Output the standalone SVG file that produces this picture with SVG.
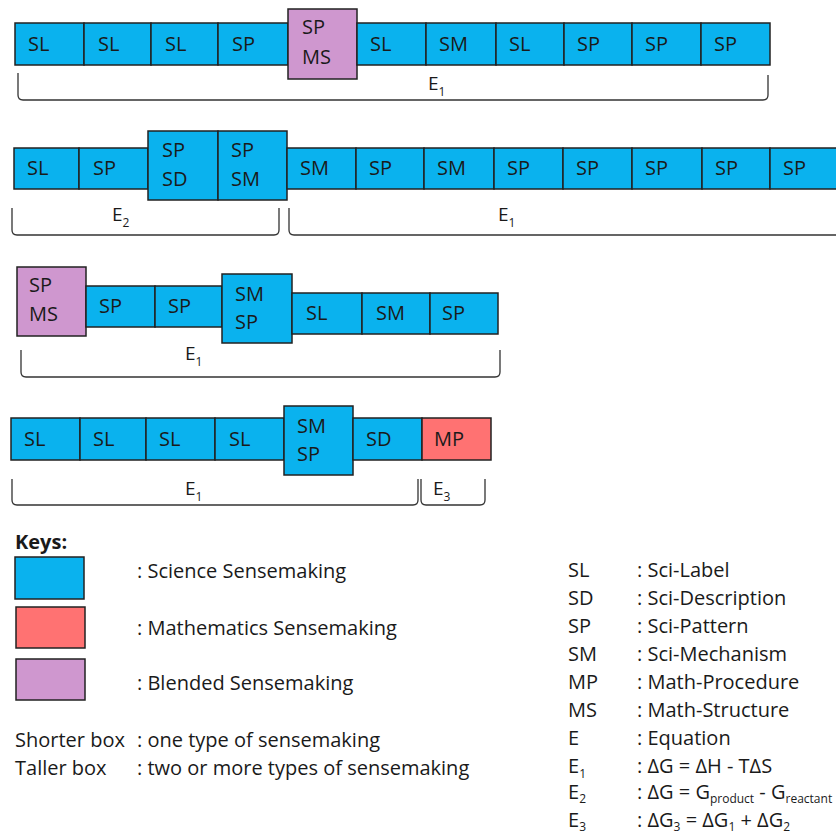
<svg xmlns="http://www.w3.org/2000/svg" width="836" height="835" viewBox="0 0 836 835">
<style>
text{font-family:"Open Sans","Noto Sans","DejaVu Sans",sans-serif;fill:#1a1a1a}
.lb{font-size:20px}
.sci{fill:#0AB2EE;stroke:#222;stroke-width:1.5}
.math{fill:#FF7272;stroke:#222;stroke-width:1.5}
.bl{fill:#CF97CF;stroke:#222;stroke-width:1.5}
.br{fill:none;stroke:#333;stroke-width:1.3}
.el{font-size:19px}
.sub{font-size:12px}
.lg{font-size:20px}
</style>
<rect width="836" height="835" fill="#fff"/>
<g id="row1">
<g id="r1b1"><rect class="sci" x="15" y="23" width="69" height="42"/><text class="lb" x="28" y="51">SL</text></g>
<g id="r1b2"><rect class="sci" x="84" y="23" width="67" height="42"/><text class="lb" x="98" y="51">SL</text></g>
<g id="r1b3"><rect class="sci" x="151" y="23" width="67" height="42"/><text class="lb" x="165" y="51">SL</text></g>
<g id="r1b4"><rect class="sci" x="218" y="23" width="70" height="42"/><text class="lb" x="232" y="51">SP</text></g>
<g id="r1b5"><rect class="bl" x="288" y="9" width="69" height="70"/><text class="lb" x="302" y="34">SP</text><text class="lb" x="302" y="64">MS</text></g>
<g id="r1b6"><rect class="sci" x="357" y="23" width="69" height="42"/><text class="lb" x="370" y="51">SL</text></g>
<g id="r1b7"><rect class="sci" x="426" y="23" width="70" height="42"/><text class="lb" x="439" y="51">SM</text></g>
<g id="r1b8"><rect class="sci" x="496" y="23" width="68" height="42"/><text class="lb" x="509" y="51">SL</text></g>
<g id="r1b9"><rect class="sci" x="564" y="23" width="68" height="42"/><text class="lb" x="577" y="51">SP</text></g>
<g id="r1b10"><rect class="sci" x="632" y="23" width="69" height="42"/><text class="lb" x="645" y="51">SP</text></g>
<g id="r1b11"><rect class="sci" x="701" y="23" width="69" height="42"/><text class="lb" x="714" y="51">SP</text></g>
</g>
<g id="row2">
<g id="r2b1"><rect class="sci" x="14" y="148" width="65" height="41"/><text class="lb" x="27" y="175">SL</text></g>
<g id="r2b2"><rect class="sci" x="79" y="148" width="69" height="41"/><text class="lb" x="93" y="175">SP</text></g>
<g id="r2b3"><rect class="sci" x="148" y="131" width="70" height="69"/><text class="lb" x="162" y="157">SP</text><text class="lb" x="162" y="186">SD</text></g>
<g id="r2b4"><rect class="sci" x="218" y="131" width="69" height="69"/><text class="lb" x="231" y="157">SP</text><text class="lb" x="231" y="186">SM</text></g>
<g id="r2b5"><rect class="sci" x="287" y="148" width="69" height="41"/><text class="lb" x="300" y="175">SM</text></g>
<g id="r2b6"><rect class="sci" x="356" y="148" width="68" height="41"/><text class="lb" x="369" y="175">SP</text></g>
<g id="r2b7"><rect class="sci" x="424" y="148" width="70" height="41"/><text class="lb" x="437" y="175">SM</text></g>
<g id="r2b8"><rect class="sci" x="494" y="148" width="69" height="41"/><text class="lb" x="507" y="175">SP</text></g>
<g id="r2b9"><rect class="sci" x="563" y="148" width="69" height="41"/><text class="lb" x="576" y="175">SP</text></g>
<g id="r2b10"><rect class="sci" x="632" y="148" width="70" height="41"/><text class="lb" x="645" y="175">SP</text></g>
<g id="r2b11"><rect class="sci" x="702" y="148" width="68" height="41"/><text class="lb" x="715" y="175">SP</text></g>
<g id="r2b12"><rect class="sci" x="770" y="148" width="72" height="41"/><text class="lb" x="783" y="175">SP</text></g>
</g>
<g id="row3">
<g id="r3b1"><rect class="bl" x="17" y="267" width="69" height="69"/><text class="lb" x="29" y="292">SP</text><text class="lb" x="29" y="321">MS</text></g>
<g id="r3b2"><rect class="sci" x="86" y="286" width="69" height="41"/><text class="lb" x="99" y="313">SP</text></g>
<g id="r3b3"><rect class="sci" x="155" y="286" width="67" height="41"/><text class="lb" x="168" y="313">SP</text></g>
<g id="r3b4"><rect class="sci" x="222" y="274" width="70" height="69"/><text class="lb" x="235" y="301">SM</text><text class="lb" x="235" y="329">SP</text></g>
<g id="r3b5"><rect class="sci" x="292" y="293" width="70" height="41"/><text class="lb" x="306" y="320">SL</text></g>
<g id="r3b6"><rect class="sci" x="362" y="293" width="68" height="41"/><text class="lb" x="376" y="320">SM</text></g>
<g id="r3b7"><rect class="sci" x="430" y="293" width="68" height="41"/><text class="lb" x="442" y="320">SP</text></g>
</g>
<g id="row4">
<g id="r4b1"><rect class="sci" x="11" y="418" width="69" height="42"/><text class="lb" x="24" y="446">SL</text></g>
<g id="r4b2"><rect class="sci" x="80" y="418" width="66" height="42"/><text class="lb" x="93" y="446">SL</text></g>
<g id="r4b3"><rect class="sci" x="146" y="418" width="69" height="42"/><text class="lb" x="159" y="446">SL</text></g>
<g id="r4b4"><rect class="sci" x="215" y="418" width="69" height="42"/><text class="lb" x="229" y="446">SL</text></g>
<g id="r4b5"><rect class="sci" x="284" y="406" width="69" height="69"/><text class="lb" x="297" y="433">SM</text><text class="lb" x="297" y="461">SP</text></g>
<g id="r4b6"><rect class="sci" x="353" y="418" width="69" height="42"/><text class="lb" x="366" y="446">SD</text></g>
<g id="r4b7"><rect class="math" x="422" y="418" width="69" height="42"/><text class="lb" x="434" y="446">MP</text></g>
</g>
<g id="brackets">
<path class="br" d="M18,73 V95 Q18,100 23,100 H763 Q768,100 768,95 V75"/>
<path class="br" d="M12,208 V230 Q12,235 17,235 H274 Q279,235 279,230 V208"/>
<path class="br" d="M289,208 V230 Q289,235 294,235 H840"/>
<path class="br" d="M21,350 V372 Q21,377 26,377 H495 Q500,377 500,372 V350"/>
<path class="br" d="M12,479 V500 Q12,505 17,505 H413 Q418,505 418,500 V479"/>
<path class="br" d="M421,479 V500 Q421,505 426,505 H480 Q485,505 485,500 V479"/>
<text class="el" x="428" y="90">E<tspan class="sub" dy="6">1</tspan></text>
<text class="el" x="112" y="221">E<tspan class="sub" dy="6">2</tspan></text>
<text class="el" x="498" y="221">E<tspan class="sub" dy="6">1</tspan></text>
<text class="el" x="185" y="360">E<tspan class="sub" dy="6">1</tspan></text>
<text class="el" x="185" y="495">E<tspan class="sub" dy="6">1</tspan></text>
<text class="el" x="433" y="495">E<tspan class="sub" dy="6">3</tspan></text>
</g>
<g id="keys">
<text class="lg" x="15" y="549" font-weight="bold">Keys:</text>
<rect class="sci" x="15" y="557" width="69" height="42"/>
<rect class="math" x="16" y="607" width="69" height="41"/>
<rect class="bl" x="16" y="659" width="69" height="41"/>
<text class="lg" x="137" y="578">: Science Sensemaking</text>
<text class="lg" x="137" y="635">: Mathematics Sensemaking</text>
<text class="lg" x="137" y="690">: Blended Sensemaking</text>
<text class="lg" x="15" y="747">Shorter box</text>
<text class="lg" x="137" y="747">: one type of sensemaking</text>
<text class="lg" x="15" y="775">Taller box</text>
<text class="lg" x="137" y="775">: two or more types of sensemaking</text>
</g>
<g id="abbrev">
<text class="lg" x="568" y="577">SL</text><text class="lg" x="637" y="577">: Sci-Label</text>
<text class="lg" x="568" y="605">SD</text><text class="lg" x="637" y="605">: Sci-Description</text>
<text class="lg" x="568" y="633">SP</text><text class="lg" x="637" y="633">: Sci-Pattern</text>
<text class="lg" x="568" y="661">SM</text><text class="lg" x="637" y="661">: Sci-Mechanism</text>
<text class="lg" x="568" y="689">MP</text><text class="lg" x="637" y="689">: Math-Procedure</text>
<text class="lg" x="568" y="717">MS</text><text class="lg" x="637" y="717">: Math-Structure</text>
<text class="lg" x="568" y="745">E</text><text class="lg" x="637" y="745">: Equation</text>
<text class="lg" x="568" y="773">E<tspan class="sub" dy="5">1</tspan></text><text class="lg" x="637" y="773">: ΔG = ΔH - TΔS</text>
<text class="lg" x="568" y="799">E<tspan class="sub" dy="4">2</tspan></text><text class="lg" x="637" y="799">: ΔG = G<tspan class="sub" dy="4">product</tspan><tspan dy="-4"> - G</tspan><tspan class="sub" dy="4">reactant</tspan></text>
<text class="lg" x="568" y="827">E<tspan class="sub" dy="4">3</tspan></text><text class="lg" x="637" y="827">: ΔG<tspan class="sub" dy="4">3</tspan><tspan dy="-4"> = ΔG</tspan><tspan class="sub" dy="4">1</tspan><tspan dy="-4"> + ΔG</tspan><tspan class="sub" dy="4">2</tspan></text>
</g>
</svg>
